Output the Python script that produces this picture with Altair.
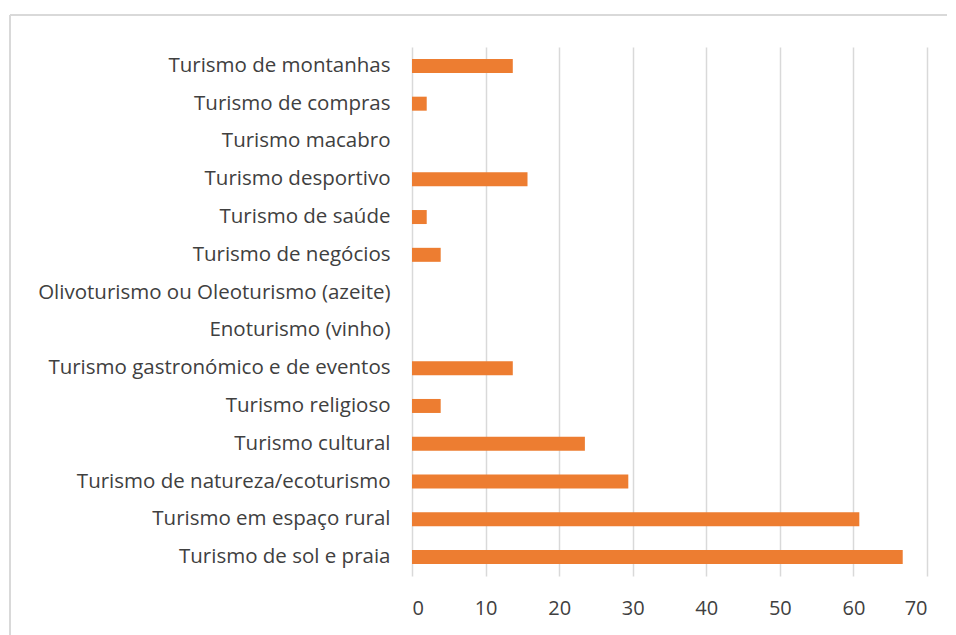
import altair as alt
import pandas as pd

categories = [
    "Turismo de montanhas",
    "Turismo de compras",
    "Turismo macabro",
    "Turismo desportivo",
    "Turismo de saúde",
    "Turismo de negócios",
    "Olivoturismo ou Oleoturismo (azeite)",
    "Enoturismo (vinho)",
    "Turismo gastronómico e de eventos",
    "Turismo religioso",
    "Turismo cultural",
    "Turismo de natureza/ecoturismo",
    "Turismo em espaço rural",
    "Turismo de sol e praia",
]
values = [13.7, 2.0, 0, 15.7, 2.0, 3.9, 0, 0, 13.7, 3.9, 23.5, 29.4, 60.8, 66.7]
x_ticks = [0, 10, 20, 30, 40, 50, 60, 70]

df = pd.DataFrame({"categoria": categories, "valor": values})

FONT = "Open Sans"
TEXT = "#404040"
GRID = "#d9d9d9"

bars = alt.Chart(df).mark_bar(color="#ED7D31", size=14).encode(
    x=alt.X(
        "valor:Q",
        scale=alt.Scale(domain=[0, 70], nice=False),
        axis=alt.Axis(
            values=x_ticks,
            title=None,
            domain=False,
            ticks=False,
            grid=True,
            gridColor=GRID,
            gridWidth=1.5,
            labelFont=FONT,
            labelFontSize=20,
            labelColor=TEXT,
            labelPadding=22,
        ),
    ),
    y=alt.Y(
        "categoria:N",
        sort=categories,
        axis=alt.Axis(
            title=None,
            domain=False,
            ticks=False,
            grid=False,
            labelFont=FONT,
            labelFontSize=20.5,
            labelColor=TEXT,
            labelPadding=22,
            labelLimit=500,
        ),
    ),
)

border_top = alt.Chart(df).mark_rule(color=GRID, strokeWidth=2).encode(
    x=alt.value(-402), x2=alt.value(560), y=alt.value(-32)
)
border_left = alt.Chart(df).mark_rule(color=GRID, strokeWidth=2).encode(
    x=alt.value(-402), y=alt.value(-32), y2=alt.value(600)
)

chart = (
    alt.layer(border_top, border_left, bars)
    .properties(
        width=515,
        height=529,
        autosize=alt.AutoSizeParams(type="none"),
        padding={"left": 404, "top": 39, "right": 20, "bottom": 60},
        view=alt.ViewBackground(strokeOpacity=0, strokeWidth=0),
    )
    .configure_view(strokeOpacity=0, strokeWidth=0)
    .configure_axis(domain=False)
    .configure(background="white")
)

chart.save("out.html", embed_options={"renderer": "svg", "actions": False})
